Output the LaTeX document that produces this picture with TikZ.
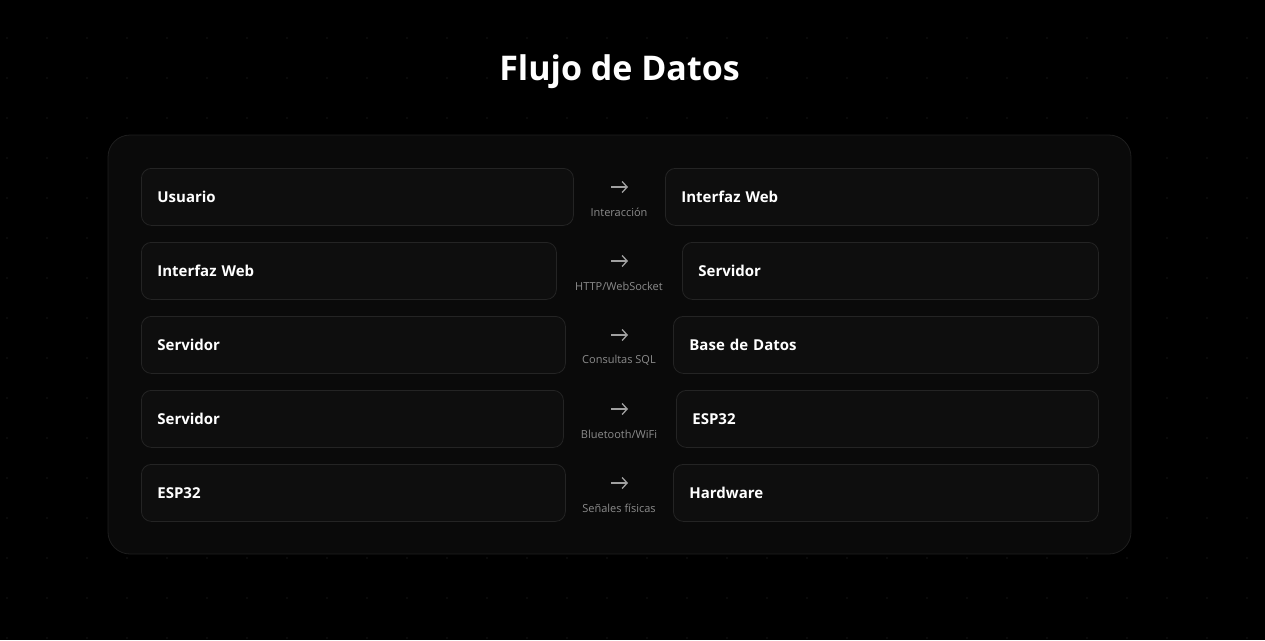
\documentclass[tikz,border=0pt]{standalone}
\usepackage{fontspec}
\setmainfont{Open Sans}
\usepackage{tikz}
\usetikzlibrary{arrows.meta}

\definecolor{pagebg}{HTML}{000000}
\definecolor{dotgray}{HTML}{151515}
\definecolor{panelfill}{HTML}{0A0A0A}
\definecolor{panelline}{HTML}{1E1E1E}
\definecolor{boxfill}{HTML}{0E0E0E}
\definecolor{boxline}{HTML}{242424}
\definecolor{lblgray}{HTML}{8C8C8C}
\definecolor{arrowgray}{HTML}{A0A0A0}

\begin{document}
\begin{tikzpicture}[x=1pt,y=-1pt]
						\tikzstyle{box}=[draw=boxline,fill=boxfill,line width=0.8pt,rounded corners=10pt,minimum height=57pt,inner xsep=16pt,inner ysep=0pt,anchor=north west,align=left,text=white,font=\fontsize{15}{18}\selectfont\bfseries]
						\tikzstyle{lbl}=[text=lblgray,font=\fontsize{11}{13}\selectfont,inner sep=0pt]
						\tikzstyle{flow}=[draw=arrowgray,line width=1.3pt,-{Straight Barb[length=5pt,width=11pt]}]
						% page and panel
						\fill[pagebg] (0,0) rectangle (1265,640);
						\useasboundingbox (0,0) rectangle (1265,640);
						\foreach \i in {0,...,31}
							\foreach \j in {0,...,15}
								\fill[dotgray] (7+40*\i,38+40*\j) circle (0.8pt);
						\filldraw[fill=panelfill,draw=panelline,line width=0.8pt,rounded corners=22pt] (108,135) rectangle (1131,554);
						\node[text=white,font=\fontsize{34}{40}\selectfont\bfseries](title) at (619.5,72) {Flujo de Datos};
						% row 1
						\node[box,text width=400pt](u1) at (141,168) {Usuario};
						\node[box,text width=401pt](w1) at (665,168) {Interfaz Web};
						\node[lbl](l1) at (619,212) {Interacción};
						\coordinate (s1) at (611,187);
						\coordinate (e1) at (628,187);
						\draw[flow](s1) -- (e1);
						% row 2
						\node[box,text width=383pt](w2) at (141,242) {Interfaz Web};
						\node[box,text width=384pt](v2) at (682,242) {Servidor};
						\node[lbl](l2) at (619,286) {HTTP/WebSocket};
						\coordinate (s2) at (611,261);
						\coordinate (e2) at (628,261);
						\draw[flow](s2) -- (e2);
						% row 3
						\node[box,text width=392pt](v3) at (141,316) {Servidor};
						\node[box,text width=393pt](d3) at (673,316) {Base de Datos};
						\node[lbl](l3) at (619,360) {Consultas SQL};
						\coordinate (s3) at (611,335);
						\coordinate (e3) at (628,335);
						\draw[flow](s3) -- (e3);
						% row 4
						\node[box,text width=390pt](v4) at (141,390) {Servidor};
						\node[box,text width=390pt](p4) at (676,390) {ESP32};
						\node[lbl](l4) at (619,434) {Bluetooth/WiFi};
						\coordinate (s4) at (611,409);
						\coordinate (e4) at (628,409);
						\draw[flow](s4) -- (e4);
						% row 5
						\node[box,text width=392pt](p5) at (141,464) {ESP32};
						\node[box,text width=393pt](h5) at (673,464) {Hardware};
						\node[lbl](l5) at (619,508) {Señales físicas};
						\coordinate (s5) at (611,483);
						\coordinate (e5) at (628,483);
						\draw[flow](s5) -- (e5);
					\end{tikzpicture}
\end{document}
